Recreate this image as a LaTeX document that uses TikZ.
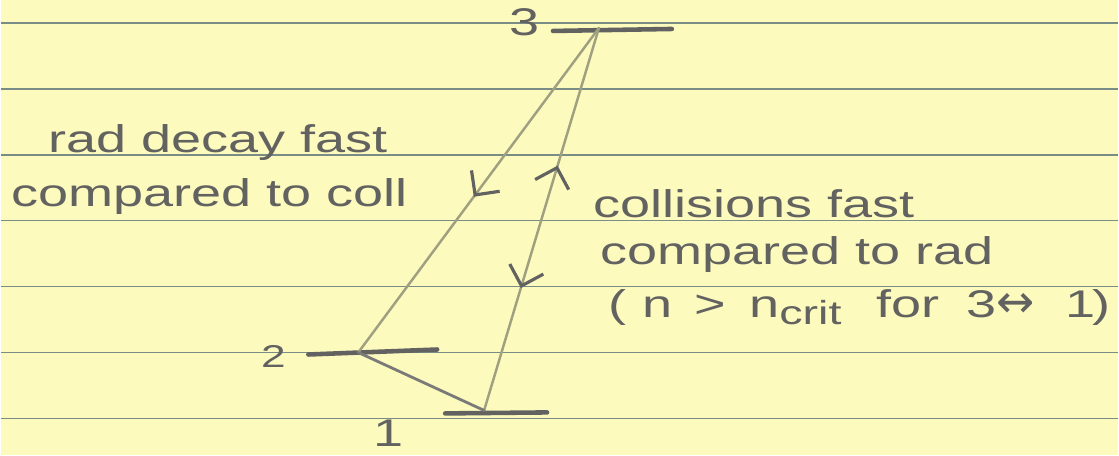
\documentclass[tikz,border=0pt]{standalone}
\usepackage{fontspec}
\newfontfamily\handfont[FakeStretch=1.4]{Liberation Sans}
\newfontfamily\symfont{DejaVu Sans}
\definecolor{paper}{RGB}{253, 250, 190}
\definecolor{ruling}{RGB}{122, 140, 134}
\definecolor{pencil}{RGB}{98, 98, 96}
\definecolor{pencilLight}{RGB}{158, 160, 128}
\usetikzlibrary{arrows.meta, decorations.markings}

\begin{document}
\begin{tikzpicture}[x=0.02cm, y=-0.02cm,
        ruled/.style={draw=ruling, line width=0.9pt},
        level/.style={draw=pencil, line width=2.6pt, line cap=round},
        trans/.style={color=pencilLight, line width=1.4pt, line cap=round},
        hand/.style={font=\handfont\fontsize{22}{26}\selectfont, text=pencil, inner sep=0pt},
        markdown/.style={postaction={decorate, decoration={markings,
            mark=at position #1 with {\arrow[pencil, line width=1.8pt]{Straight Barb[length=10pt, width=20pt]}}}}},
        markup/.style={postaction={decorate, decoration={markings,
            mark=at position #1 with {\arrowreversed[pencil, line width=1.8pt]{Straight Barb[length=10pt, width=20pt]}}}}}]
        % sheet of ruled paper
        \fill[paper] (0,0) rectangle (1119,456);
        \foreach \y in {23, 89, 155, 221, 287, 353, 419}
            \draw[ruled] (0,\y) -- (1119,\y);

        % level ends
        \coordinate (l3w) at (553,31);
        \coordinate (l3e) at (672,29);
        \coordinate (top) at (599,28);
        \coordinate (l2w) at (308,355);
        \coordinate (l2e) at (437,350);
        \coordinate (l2p) at (358,353);
        \coordinate (l1w) at (445,414);
        \coordinate (l1e) at (547,413);
        \coordinate (l1p) at (484,411);

        % level numbers
        \node[hand] (n3) at (524,22) {3};
        \node[hand, font=\handfont\fontsize{18}{20}\selectfont] (n2) at (273,357) {2};
        \node[hand] (n1) at (388,434) {1};

        % levels
        \draw[level] (l3w) -- (l3e);
        \draw[level] (l2w) -- (l2e);
        \draw[level] (l1w) -- (l1e);

        % transitions
        \draw[trans, markdown=0.52] (top) -- (l2p);
        \draw[trans, markup=0.36, markdown=0.68] (top) -- (l1p);
        \draw[draw=pencil!85, line width=1.6pt, line cap=round] (l2p) -- (l1p);

        % notes
        \node[hand, anchor=base west] (radA) at (47,153) {rad decay fast};
        \node[hand, anchor=base west] (radB) at (10,207) {compared to coll};
        \node[hand, anchor=base west] (collA) at (593,218) {collisions fast};
        \node[hand, anchor=base west] (collB) at (600,265) {compared to rad};
        \node[hand, anchor=base west] (collC) at (608,318)
            {(\hspace{9pt}n\hspace{13pt}>\hspace{13pt}n\raisebox{-0.35ex}{\fontsize{19}{20}\selectfont crit}\hspace{20pt}for\hspace{15pt}3{\symfont\fontsize{26}{26}\selectfont ↔}\hspace{18pt}1\hspace{-2pt})};
\end{tikzpicture}
\end{document}
